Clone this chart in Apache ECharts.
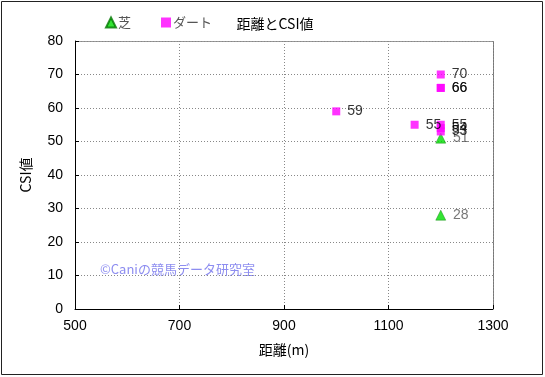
<!DOCTYPE html>
<html>
<head>
<meta charset="utf-8">
<script src="https://cdn.jsdelivr.net/npm/echarts@6/dist/echarts.min.js"></script>
<style>
  html, body { margin: 0; padding: 0; background: #fff; }
  #chart { width: 545px; height: 377px; }
</style>
</head>
<body>
<div id="chart"></div>
<script>
// 距離とCSI値
var turfDist = [1200, 1200];
var turfCsi = [51, 28];
var dirtDist = [1000, 1150, 1200, 1200, 1200, 1200, 1200, 1200];
var dirtCsi = [59, 55, 70, 66, 66, 55, 54, 53];
var xTicks = [500, 700, 900, 1100, 1300];
var yTicks = [0, 10, 20, 30, 40, 50, 60, 70, 80];

var jp = '"Noto Sans CJK JP", "Liberation Sans", sans-serif';
var num = '"Liberation Sans", Arial, sans-serif';

function pairs(xs, ys) {
    var out = [];
    for (var i = 0; i < xs.length; i++) out.push([xs[i], ys[i]]);
    return out;
}

var myChart = echarts.init(document.getElementById('chart'));
var option = {
    animation: false,
    title: {
        text: '距離とCSI値',
        left: 270,
        top: 12,
        textAlign: 'center',
        textStyle: { fontFamily: jp, fontSize: 14, fontWeight: 'normal', color: '#000' }
    },
    legend: {
        left: 100,
        top: 11,
        itemWidth: 10,
        itemHeight: 10,
        itemGap: 30,
        textStyle: { fontFamily: jp, fontSize: 13, color: '#555', padding: [0, 0, 0, -3] },
        data: [
            { name: '芝', icon: 'triangle' },
            { name: 'ダート', icon: 'rect' }
        ]
    },
    grid: { left: 75, right: 52, top: 41, bottom: 68 },
    xAxis: {
        type: 'value',
        min: 500, max: 1300, interval: 200,
        name: '距離(m)',
        nameLocation: 'middle',
        nameGap: 34,
        nameTextStyle: { fontFamily: jp, fontSize: 14, color: '#000' },
        axisLine: { onZero: false, lineStyle: { color: '#000', width: 1 } },
        axisTick: { inside: true, length: 4, lineStyle: { color: '#000' } },
        axisLabel: {
            fontFamily: num, fontSize: 14, color: '#000', margin: 10,
            formatter: function (v) { return String(v); }
        },
        splitLine: { show: true, lineStyle: { color: '#888', type: [1, 2] } }
    },
    yAxis: {
        type: 'value',
        min: 0, max: 80, interval: 10,
        name: 'CSI値',
        nameLocation: 'middle',
        nameGap: 42,
        nameRotate: 90,
        nameTextStyle: { fontFamily: jp, fontSize: 14, color: '#000' },
        axisLine: { show: true, lineStyle: { color: '#000', width: 1 } },
        axisTick: { show: true, inside: true, length: 4, lineStyle: { color: '#000' } },
        axisLabel: { fontFamily: num, fontSize: 14, color: '#000', margin: 12 },
        splitLine: { show: true, lineStyle: { color: '#888', type: [1, 2] } }
    },
    graphic: [
        {
            type: 'rect',
            shape: { x: 1.5, y: 1.5, width: 541, height: 373 },
            style: { fill: 'none', stroke: '#222', lineWidth: 1 },
            silent: true
        },
        {
            type: 'line',
            shape: { x1: 493.5, y1: 41, x2: 493.5, y2: 309 },
            style: { stroke: '#777', lineWidth: 1 },
            silent: true
        },
        {
            type: 'line',
            shape: { x1: 75, y1: 41.5, x2: 493, y2: 41.5 },
            style: { stroke: '#999', lineWidth: 1 },
            silent: true
        },
        {
            type: 'text',
            left: 100,
            top: 263,
            style: { text: '©Caniの競馬データ研究室', fontFamily: jp, fontSize: 13, fill: '#8d8df0' },
            silent: true
        }
    ],
    series: [
        {
            name: '芝',
            type: 'scatter',
            symbol: 'triangle',
            symbolSize: 10,
            itemStyle: { color: '#00dd00', borderColor: '#007700', borderWidth: 0.5 },
            label: {
                show: true,
                position: 'right',
                distance: 7,
                fontFamily: num,
                fontSize: 14,
                color: '#555',
                textBorderWidth: 0,
                formatter: function (p) { return p.value[1]; }
            },
            data: pairs(turfDist, turfCsi)
        },
        {
            name: 'ダート',
            type: 'scatter',
            symbol: 'rect',
            symbolSize: 8,
            itemStyle: { color: '#ff00ff' },
            label: {
                show: true,
                position: 'right',
                distance: 7,
                fontFamily: num,
                fontSize: 14,
                color: '#000',
                textBorderWidth: 0,
                formatter: function (p) { return p.value[1]; }
            },
            data: pairs(dirtDist, dirtCsi)
        }
    ]
};
myChart.setOption(option);
</script>
</body>
</html>
